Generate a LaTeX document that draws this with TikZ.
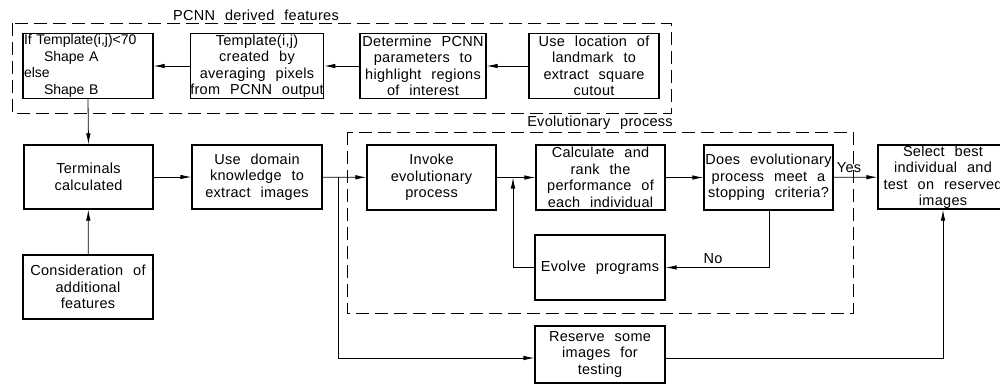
\documentclass[tikz,border=0pt]{standalone}
\usepackage{fontspec}
\setmainfont[WordSpace=2.3,LetterSpace=2]{Liberation Sans}
\newfontfamily\tfont[WordSpace=2.2]{Liberation Sans}
\usetikzlibrary{arrows.meta}
\tikzset{
  box/.style={draw, line width=1.3pt, minimum width=130pt, minimum height=65pt,
    align=center, inner sep=0pt, font=\fontsize{14.5}{16.5}\selectfont},
  conn/.style={line width=0.8pt, -{Latex[length=11pt,width=4.5pt]}},
  plain/.style={line width=0.8pt},
  group/.style={line width=0.8pt, dash pattern=on 13pt off 6pt},
  lbl/.style={inner sep=0pt, font=\fontsize{14.5}{16.5}\selectfont}
}
\begin{document}
\begin{tikzpicture}[x=1pt,y=-1pt]
\useasboundingbox (0,0) rectangle (1000,384);
\clip (0,0) rectangle (1000,384);
% groups
\draw[group] (12,23) rectangle (671,113);
\node[lbl] (pcnnlbl) at (256,15) {PCNN derived features};
\draw[group] (347,132) rectangle (853,313);
\node[lbl] (evlbl) at (600,123) {Evolutionary process};
% top row
\node[box, align=left, text width=128pt, font=\tfont\fontsize{14}{16.5}\selectfont] (tmpl) at (88,66)
  {If Template(i,j)<70\\\hspace*{20pt}Shape A\\else\\\hspace*{20pt}Shape B};
\node[box] (avg) at (257,66) {Template(i,j)\\created by\\averaging pixels\\from PCNN output};
\node[box, minimum width=126pt] (det) at (423,66) {Determine PCNN\\parameters to\\highlight regions\\of interest};
\node[box] (loc) at (594,66) {Use location of\\landmark to\\extract square\\cutout};
% middle row
\node[box, minimum height=64pt, minimum width=129pt] (term) at (88.5,177) {Terminals\\calculated};
\node[box, minimum height=64pt] (dom) at (257,177) {Use domain\\knowledge to\\extract images};
\node[box, minimum width=129pt] (inv) at (431.5,177.5) {Invoke\\evolutionary\\process};
\node[box, minimum width=129pt] (calc) at (600.5,177.5) {Calculate and\\rank the\\performance of\\each individual};
\node[box, minimum width=129pt] (does) at (768.5,177.5) {Does evolutionary\\process meet a\\stopping criteria?};
\node[box, minimum height=64pt] (sel) at (943,177) {Select best\\individual and\\test on reserved\\images};
% lower
\node[box, minimum height=64pt] (cons) at (88,287) {Consideration of\\additional\\features};
\node[box] (evo) at (600,267.5) {Evolve programs};
\node[box, minimum height=57pt] (res) at (600,354.5) {Reserve some\\images for\\testing};
% coordinates
\coordinate (j) at (513,177.5);
\coordinate (b1) at (338,177);
\coordinate (b2) at (338,358);
\coordinate (r2) at (943,358);
\coordinate (d2) at (769,267.5);
% connectors
\draw[conn] (loc) -- (det);
\draw[conn] (det) -- (avg);
\draw[conn] (avg) -- (tmpl);
\draw[conn] (tmpl.south) -- (term.north);
\draw[conn] (cons) -- (term);
\draw[conn] (term) -- (dom);
\draw[conn] (dom) -- (inv);
\draw[plain] (b1) -- (b2);
\draw[conn] (b2) -- (b2 -| res.west);
\draw[conn] (inv) -- (calc);
\draw[conn] (evo.west) -| (j);
\draw[conn] (calc) -- (does);
\draw[conn] (does) -- (sel);
\node[lbl] (yes) at (849,168) {Yes};
\draw[conn] (does.south -| d2) -- (d2) -- (evo.east);
\node[lbl] (no) at (713,259) {No};
\draw[conn] (b2 -| res.east) -- (r2) -- (sel.south -| r2);
\end{tikzpicture}
\end{document}
